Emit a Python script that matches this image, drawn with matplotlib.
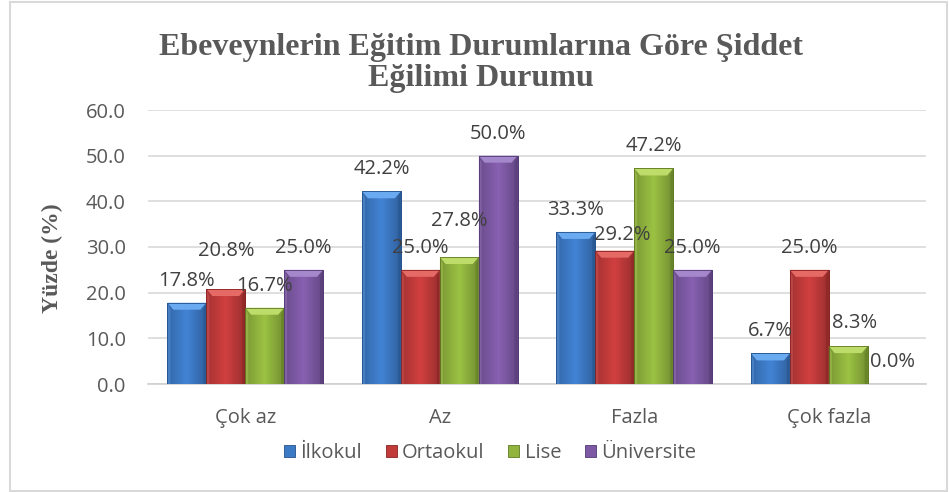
import matplotlib
matplotlib.use("Agg")
import matplotlib.pyplot as plt
import numpy as np
from matplotlib.patches import Polygon, Rectangle
from matplotlib.colors import LinearSegmentedColormap, to_rgb

categories = ["Çok az", "Az", "Fazla", "Çok fazla"]
series_names = ["İlkokul", "Ortaokul", "Lise", "Üniversite"]
ilkokul = [17.8, 42.2, 33.3, 6.7]
ortaokul = [20.8, 25.0, 29.2, 25.0]
lise = [16.7, 27.8, 47.2, 8.3]
universite = [25.0, 50.0, 25.0, 0.0]
yticks = [0, 10, 20, 30, 40, 50, 60]

series = [ilkokul, ortaokul, lise, universite]
base_cols = ["#3D7AC6", "#C23B3B", "#90B43E", "#7E5AA5"]
top_cols = ["#6AAAF0", "#E56A66", "#BEDC6A", "#A587CC"]
edge_cols = ["#24528C", "#862323", "#5F7A22", "#523A75"]

# label offsets in pixels (dx, dy) relative to bar top
default_off = (0, 22)
label_off = {(0, 1): (0, 38), (1, 2): (0, 36), (2, 1): (7, 16),
             (3, 2): (6, 23), (3, 3): (5, 22)}

W, H = 949, 492
fig = plt.figure(figsize=(W / 100, H / 100), dpi=100)
ax = fig.add_axes([148 / W, 1 - 384 / H, (926 - 148) / W, (384 - 110) / H])

text_font = ["Open Sans", "DejaVu Sans"]
serif_font = ["Liberation Serif", "DejaVu Serif"]
gray = "#595959"
fs = 14.5

x = np.arange(len(categories))
bw = 0.2
ax.set_xlim(-0.5, len(categories) - 0.5)
ax.set_ylim(0, 60)

pxx = 778 / 4.0   # pixels per x unit
pxy = 274 / 60.0  # pixels per y unit

for si, vals in enumerate(series):
    pos = x + (si - 1.5) * bw
    bars = ax.bar(pos, vals, width=bw, color=base_cols[si], edgecolor=edge_cols[si],
                  linewidth=0.6, zorder=3, label=series_names[si])
    cmap = LinearSegmentedColormap.from_list(
        "g", [np.clip(np.array(to_rgb(base_cols[si])) * 0.85, 0, 1),
              np.clip(np.array(to_rgb(base_cols[si])) * 1.08, 0, 1),
              np.array(to_rgb(base_cols[si])) * 0.8])
    for ci, b in enumerate(bars):
        x0, w, h = b.get_x(), b.get_width(), b.get_height()
        if h > 0:
            grad = np.linspace(0, 1, 50).reshape(1, -1)
            im = ax.imshow(grad, cmap=cmap, extent=[x0, x0 + w, 0, h], aspect="auto",
                           zorder=3.1, interpolation="bicubic")
            im.set_clip_path(b)
            bt = 7 / pxy
            bs = 6 / pxx
            if h > bt:
                top = Polygon([[x0, h], [x0 + w, h], [x0 + w - bs, h - bt], [x0 + bs, h - bt]],
                              closed=True, facecolor=top_cols[si], edgecolor="none", zorder=3.2)
                ax.add_patch(top)
            sd = 3 / pxx
            left = Polygon([[x0, h], [x0 + sd, h - bt], [x0 + sd, 0], [x0, 0]], closed=True,
                           facecolor=top_cols[si], alpha=0.35, edgecolor="none", zorder=3.2)
            right = Polygon([[x0 + w, h], [x0 + w - sd, h - bt], [x0 + w - sd, 0], [x0 + w, 0]],
                            closed=True, facecolor=edge_cols[si], alpha=0.5, edgecolor="none", zorder=3.2)
            ax.add_patch(left)
            ax.add_patch(right)
            ax.add_patch(Rectangle((x0, 0), w, h, facecolor="none", edgecolor=edge_cols[si],
                                   linewidth=0.6, zorder=3.3))
        dx, dy = label_off.get((ci, si), default_off)
        ax.annotate(f"{vals[ci]:.1f}%", (x0 + w / 2, h), xytext=(dx, dy),
                    textcoords="offset pixels", ha="center", va="center",
                    fontsize=fs, color="#404040", family=text_font, zorder=5)

ax.set_yticks(yticks)
ax.set_yticklabels([f"{t:.1f}" for t in yticks], family=text_font, fontsize=fs, color=gray)
ax.set_xticks(x)
ax.set_xticklabels(categories, family=text_font, fontsize=fs, color=gray)
ax.tick_params(axis="y", length=0, pad=16)
ax.tick_params(axis="x", length=0, pad=17)
ax.grid(axis="y", color="#D9D9D9", linewidth=1.2, zorder=0)
for s in ["top", "right", "left"]:
    ax.spines[s].set_visible(False)
ax.spines["bottom"].set_color("#D0D0D0")
ax.spines["bottom"].set_linewidth(1.2)
ax.set_ylabel("Yüzde (%)", family=serif_font, fontsize=17, fontweight="bold", color=gray)
ax.yaxis.set_label_coords((63 - 148) / 778, 0.46)

fig.text(481 / W, 1 - 63 / H, "Ebeveynlerin Eğitim Durumlarına Göre Şiddet\nEğilimi Durumu",
         ha="center", va="center", family=serif_font, fontsize=23, fontweight="bold",
         color=gray, linespacing=1.1)

handles = [Rectangle((0, 0), 1, 1, facecolor=base_cols[i], edgecolor=edge_cols[i], linewidth=0.6)
           for i in range(4)]
fig.legend(handles, series_names, loc="center", bbox_to_anchor=(490 / W, 1 - 453 / H),
           ncol=4, frameon=False, prop={"family": text_font, "size": fs},
           handlelength=0.55, handleheight=0.55, handletextpad=0.25, columnspacing=1.2,
           labelcolor=gray)

fig.add_artist(Rectangle((10 / W, 1 / H), 937 / W, 489 / H, transform=fig.transFigure,
                         facecolor="none", edgecolor="#D9D9D9", linewidth=1.5))

fig.savefig("out.png", dpi=100)
